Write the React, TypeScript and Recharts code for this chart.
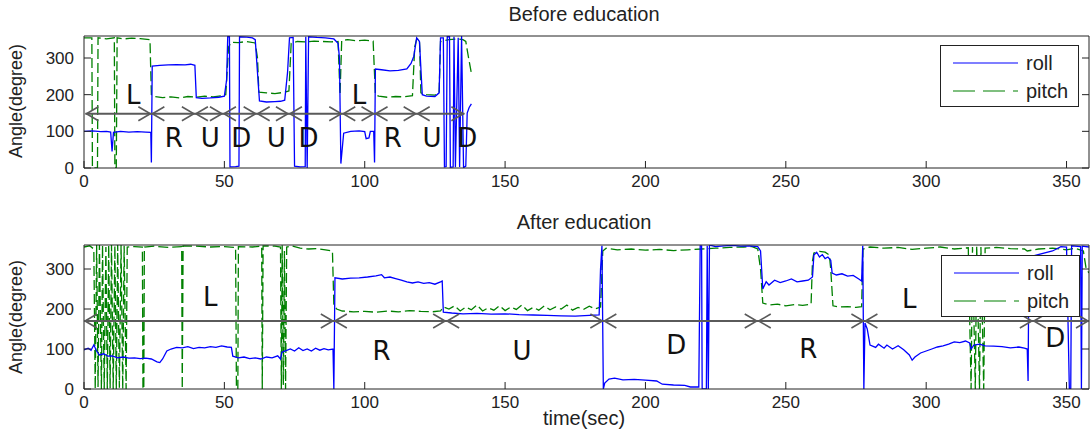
/* ── Angle traces before / after education — roll & pitch ─────────── */

import { LineChart, Line, XAxis, YAxis, ReferenceLine, ReferenceDot } from 'recharts';

const X_TICKS = [0, 50, 100, 150, 200, 250, 300, 350];
const Y_TICKS = [0, 100, 200, 300];
const X_MAX = 358;
const Y_MAX = 360;

const ROLL_COLOR = '#0000ff';
const PITCH_COLOR = '#008000';
const AXIS_COLOR = '#222';
const ARROW_COLOR = '#5a5a5a';

/* before education: [time, angle] */
const BEFORE_ROLL: [number, number][] = [
  [0, 100], [3, 101], [6, 99], [8, 100], [9.5, 98], [10, 45], [10.5, 97], [13, 100], [16, 98], [19, 99],
  [22, 98], [23.8, 97], [24, 15], [24.3, 278], [27, 280], [30, 281], [33, 282], [36, 281], [38, 283],
  [39.5, 280], [40, 192], [42, 190], [45, 191], [48, 193], [50, 196], [50.8, 240], [51.2, 358], [51.8, 358],
  [52, 3], [54, 4], [55.2, 5], [55.4, 358], [58, 357], [60, 355], [61, 350], [61.8, 260], [62.5, 183],
  [65, 180], [68, 181], [70, 182], [71.5, 185], [72.5, 260], [73.2, 355], [74.5, 356], [75, 5], [77, 3],
  [78.8, 4], [79, 358], [79.5, 0], [80, 358], [83, 356], [86, 355], [89, 352], [90.5, 340], [91, 300],
  [91.5, 12], [92.5, 95], [95, 100], [98, 101], [100, 99], [100.5, 80], [101.5, 82], [102, 100], [103.2, 100],
  [103.5, 15], [103.8, 270], [106, 268], [109, 265], [112, 266], [115, 270], [116.5, 285], [117.5, 305],
  [118.5, 355], [119.5, 345], [120.5, 200], [122, 196], [125, 195], [126.5, 205], [127, 355], [128, 355],
  [128.4, 3], [129, 4], [129.4, 358], [130.2, 358], [130.5, 2], [131.5, 3], [131.8, 358], [132.3, 2],
  [133.3, 355], [133.8, 3], [134.5, 360], [135.2, 1], [136, 5], [136.5, 150], [137.2, 165], [138, 175],
];

const BEFORE_PITCH: [number, number][] = [
  [0, 355], [2.8, 355], [3, 0], [4.8, 0], [5, 355], [8, 352], [10.8, 355], [11, 0], [11.5, 0], [11.8, 355],
  [14, 352], [17, 354], [20, 353], [23.5, 350], [24, 200], [25, 195], [28, 192], [31, 194], [34, 191],
  [37, 195], [40, 193], [43, 196], [46, 194], [49, 197], [50.5, 200], [51.5, 330], [52.5, 343], [55, 342],
  [58, 345], [61, 341], [61.8, 300], [62.3, 207], [65, 205], [68, 203], [71, 206], [73, 210], [73.8, 340],
  [76, 345], [79, 344], [82, 346], [85, 345], [88, 344], [90.5, 345], [91.2, 200], [91.8, 348], [94, 350],
  [97, 347], [100, 349], [103, 346], [103.8, 200], [105, 196], [108, 193], [111, 195], [114, 194],
  [117, 197], [117.8, 330], [118.5, 352], [119.5, 350], [120, 205], [122, 200], [125, 199], [126.5, 205],
  [127, 345], [130, 350], [133, 352], [135, 350], [136, 345], [137, 300], [138, 258],
];

/* after education: [time, angle] */
const AFTER_ROLL: [number, number][] = [
  [0, 98], [1.5, 102], [2.5, 97], [3.5, 110], [4.5, 95], [5.5, 85], [7, 88], [8.5, 82], [10, 83], [12, 78],
  [14, 80], [16, 77], [18, 78], [20, 76], [22, 77], [24, 75], [26, 68], [27, 66], [28, 75], [29.5, 95],
  [31, 100], [33, 104], [35, 103], [37, 106], [39, 101], [41, 104], [43, 103], [45, 106], [47, 104],
  [49, 108], [51, 105], [52.5, 104], [53, 82], [55, 78], [57, 80], [59, 76], [61, 78], [63, 75], [65, 80],
  [67, 78], [69, 83], [70, 75], [70.5, 92], [72, 96], [73.5, 100], [75, 95], [76.5, 103], [78, 96],
  [79.5, 100], [81, 95], [82.5, 102], [84, 97], [85.5, 101], [87, 98], [88.7, 100], [89, 0], [89.4, 278],
  [92, 275], [95, 277], [98, 278], [101, 280], [104, 283], [106, 286], [107, 278], [109, 280], [111, 276],
  [113, 272], [115, 268], [117, 265], [119, 268], [121, 264], [123, 266], [125, 262], [127, 268],
  [127.6, 270], [128, 192], [131, 190], [135, 188], [140, 189], [145, 187], [150, 188], [155, 186],
  [160, 185], [165, 184], [170, 183], [175, 182], [180, 184], [183.5, 185], [184, 300], [184.5, 358],
  [185, 0], [185.5, 15], [187, 25], [189, 27], [192, 23], [196, 24], [200, 22], [204, 20], [206, 12],
  [210, 10], [214, 9], [216, 5], [219, 5], [219.5, 358], [220, 358], [220.2, 0], [221.7, 0], [222, 358],
  [222.4, 0], [222.8, 360], [225, 356], [228, 358], [231, 359], [234, 357], [237, 358], [240, 356],
  [241, 345], [241.8, 250], [243, 268], [244, 260], [246, 272], [248, 266], [250, 270], [252, 275],
  [254, 268], [256, 270], [258, 272], [259.5, 280], [260, 335], [261, 342], [262, 330], [263, 336],
  [264, 326], [265, 330], [266, 322], [266.5, 290], [268, 285], [270, 288], [272, 282], [274, 284],
  [276, 275], [277, 270], [277.4, 358], [277.8, 0], [278.2, 165], [279, 150], [280, 110], [282, 104],
  [283, 112], [285, 102], [286, 110], [288, 100], [290, 108], [292, 98], [294, 85], [295, 72], [296, 80],
  [298, 90], [300, 95], [302, 100], [304, 105], [306, 108], [308, 112], [310, 118], [312, 116],
  [314, 120], [315.5, 115], [316, 100], [317, 110], [319, 112], [321, 108], [324, 107], [327, 106],
  [330, 103], [333, 105], [335, 102], [336, 100], [336.3, 20], [336.6, 330], [345, 345], [348, 356],
  [350, 355], [351, 0], [351.5, 0], [351.8, 358], [355, 356], [355.3, 0], [355.6, 357], [358, 355],
];

const AFTER_PITCH: [number, number][] = [
  [0, 355], [2, 358], [3.5, 350], [4, 0], [4.5, 360], [5, 5], [5.5, 360], [6.2, 0], [6.6, 360], [7.2, 0],
  [7.8, 355], [8.3, 0], [8.8, 360], [9.3, 2], [9.8, 360], [10.4, 0], [11, 358], [11.5, 0], [12, 360],
  [12.6, 3], [13.2, 360], [13.8, 0], [14.3, 358], [15, 0], [15.4, 355], [18, 356], [20.8, 355], [21, 0],
  [21.3, 0], [21.5, 355], [25, 357], [30, 354], [34.8, 356], [35, 0], [35.3, 358], [40, 357], [45, 355],
  [50, 356], [54, 354], [54.3, 0], [54.8, 0], [55, 356], [60, 355], [63.3, 357], [63.5, 0], [63.8, 358],
  [68, 357], [70, 355], [70.3, 0], [70.6, 360], [71, 10], [71.4, 345], [71.8, 0], [72.2, 355], [74, 358],
  [77, 352], [80, 350], [83, 351], [86, 348], [88.5, 345], [89, 210], [90, 200], [92, 195], [96, 193],
  [100, 194], [104, 192], [108, 195], [112, 193], [116, 196], [120, 194], [124, 193], [127, 195],
  [128, 205], [130, 200], [132, 208], [134, 195], [136, 205], [138, 198], [140, 210], [142, 195],
  [144, 203], [146, 197], [148, 208], [150, 196], [152, 205], [154, 199], [156, 210], [158, 196],
  [160, 204], [162, 197], [164, 208], [166, 198], [168, 205], [170, 200], [172, 210], [174, 197],
  [176, 204], [178, 199], [180, 207], [182, 200], [184, 205], [184.8, 345], [186, 352], [190, 348],
  [195, 350], [200, 347], [205, 349], [210, 346], [215, 348], [220, 350], [225, 352], [230, 354],
  [235, 355], [238, 356], [240, 350], [241, 300], [241.8, 215], [244, 210], [247, 212], [250, 208],
  [253, 211], [256, 209], [259, 212], [259.5, 320], [260, 340], [262, 344], [264, 342], [265.5, 335],
  [266, 300], [266.8, 208], [269, 205], [272, 206], [275, 204], [277, 206], [277.5, 350], [280, 355],
  [285, 352], [290, 354], [295, 349], [300, 352], [305, 355], [310, 350], [315, 353], [316, 0],
  [316.5, 355], [317.5, 0], [318, 358], [319, 0], [319.5, 355], [320.5, 0], [321, 352], [325, 354],
  [330, 351], [335, 350], [336, 345], [340, 350], [345, 352], [350, 348], [353, 352], [356, 345],
  [357, 300], [358, 290],
];

/* segment boundaries of the motion annotation arrows */
const BEFORE_MARKS = [0.5, 24, 39.5, 49.5, 61.5, 73, 92, 103.5, 118.5, 135.5];
const AFTER_MARKS = [0, 89, 129, 185, 240, 278, 338, 358];
const BEFORE_ARROW_Y = 148;
const AFTER_ARROW_Y = 170;

/* motion letters: [time, angle, letter] */
const BEFORE_LETTERS: [number, number, string][] = [
  [17.5, 200, 'L'], [32, 82, 'R'], [45, 82, 'U'], [56, 82, 'D'], [68.5, 82, 'U'], [80, 82, 'D'],
  [98, 200, 'L'], [110, 82, 'R'], [124, 82, 'U'], [136.5, 82, 'D'],
];
const AFTER_LETTERS: [number, number, string][] = [
  [45, 230, 'L'], [106, 97, 'R'], [156, 97, 'U'], [211, 110, 'D'], [258, 102, 'R'], [294, 225, 'L'],
  [346, 128, 'D'],
];

const toPts = (arr: [number, number][]) => arr.map(([t, v]) => ({ t, v }));

/* inward MATLAB-style ticks */
const BottomTick = ({ x, y, payload }: any) => (
  <g>
    <line x1={x} x2={x} y1={y - 6} y2={y - 13} stroke={AXIS_COLOR} />
    <text x={x} y={y} dy="0.75em" textAnchor="middle" fill="#222" fontSize={17}>{payload.value}</text>
  </g>
);
const TopTick = ({ x, y }: any) => <line x1={x} x2={x} y1={y} y2={y + 7} stroke={AXIS_COLOR} />;
const LeftTick = ({ x, y, payload }: any) => (
  <g>
    <line x1={x + 10} x2={x + 17} y1={y} y2={y} stroke={AXIS_COLOR} />
    <text x={x} y={y} dy="0.36em" textAnchor="end" fill="#222" fontSize={17}>{payload.value}</text>
  </g>
);
const RightTick = ({ x, y }: any) => <line x1={x} x2={x - 7} y1={y} y2={y} stroke={AXIS_COLOR} />;

function ArrowHeads(marks: number[], yv: number) {
  return marks.map((m, i) => (
    <ReferenceDot
      key={'ah' + i}
      x={m}
      y={yv}
      r={0}
      ifOverflow="visible"
      shape={(p: any) => (
        <g stroke={ARROW_COLOR} strokeWidth={1.6} fill="none">
          {i > 0 && <polyline points={`${p.cx - 13},${p.cy - 7} ${p.cx - 1},${p.cy} ${p.cx - 13},${p.cy + 7}`} />}
          {i < marks.length - 1 && <polyline points={`${p.cx + 13},${p.cy - 7} ${p.cx + 1},${p.cy} ${p.cx + 13},${p.cy + 7}`} />}
        </g>
      )}
    />
  ));
}

function Letters(items: [number, number, string][]) {
  return items.map(([t, v, s], i) => (
    <ReferenceDot
      key={'lt' + i}
      x={t}
      y={v}
      r={0}
      ifOverflow="visible"
      shape={(p: any) => (
        <text x={p.cx} y={p.cy} dy="0.36em" textAnchor="middle" fontSize={26} fill="#111"
          fontFamily="'DejaVu Sans', sans-serif">{s}</text>
      )}
    />
  ));
}

function LegendBox({ left, top }: { left: number; top: number }) {
  return (
    <div style={{
      position: 'absolute', left, top, width: 137, height: 60, background: '#fff',
      border: '1px solid #222',
    }}>
      <svg width={137} height={60} style={{ position: 'absolute', left: 0, top: 0 }}>
        <line x1={12} x2={77} y1={17} y2={17} stroke={ROLL_COLOR} strokeWidth={1.2} />
        <line x1={12} x2={77} y1={45} y2={45} stroke={PITCH_COLOR} strokeWidth={1.2} strokeDasharray="22 8" />
        <text x={85} y={17} dy="0.36em" fill="#222" fontSize={20}>roll</text>
        <text x={85} y={45} dy="0.36em" fill="#222" fontSize={20}>pitch</text>
      </svg>
    </div>
  );
}

function Panel(props: {
  roll: [number, number][]; pitch: [number, number][]; marks: number[]; arrowY: number;
  letters: [number, number, string][]; height: number; margin: any;
}) {
  const { roll, pitch, marks, arrowY, letters, height, margin } = props;
  return (
    <LineChart width={1092} height={height} margin={margin}>
      <XAxis dataKey="t" type="number" domain={[0, X_MAX]} ticks={X_TICKS} allowDataOverflow
        height={30} tickSize={0} tickMargin={6} tickLine={false} stroke={AXIS_COLOR} tick={<BottomTick />} />
      <XAxis xAxisId="top" orientation="top" type="number" domain={[0, X_MAX]} ticks={X_TICKS} allowDataOverflow
        height={1} tickSize={0} tickMargin={0} tickLine={false} stroke={AXIS_COLOR} tick={<TopTick />} />
      <YAxis type="number" domain={[0, Y_MAX]} ticks={Y_TICKS} allowDataOverflow
        width={60} tickSize={0} tickMargin={10} tickLine={false} stroke={AXIS_COLOR} tick={<LeftTick />} />
      <YAxis yAxisId="right" orientation="right" type="number" domain={[0, Y_MAX]} ticks={Y_TICKS} allowDataOverflow
        width={1} tickSize={0} tickMargin={0} tickLine={false} stroke={AXIS_COLOR} tick={<RightTick />} />
      <Line data={toPts(pitch)} dataKey="v" stroke={PITCH_COLOR} strokeWidth={1.3} strokeDasharray="10 4"
        dot={false} isAnimationActive={false} />
      <Line data={toPts(roll)} dataKey="v" stroke={ROLL_COLOR} strokeWidth={1.3}
        dot={false} isAnimationActive={false} />
      <ReferenceLine segment={[{ x: marks[0], y: arrowY }, { x: marks[marks.length - 1], y: arrowY }]}
        stroke={ARROW_COLOR} strokeWidth={2} ifOverflow="visible" />
      {ArrowHeads(marks, arrowY)}
      {Letters(letters)}
    </LineChart>
  );
}

export default function App() {
  const textStyle: any = { position: 'absolute', fontSize: 20, color: '#222', whiteSpace: 'nowrap' };
  return (
    <div style={{
      position: 'absolute', left: 0, top: 0, width: 1092, height: 432, background: '#fff',
      fontFamily: "'Liberation Sans', Arial, sans-serif",
    }}>
      <div style={{ position: 'absolute', left: 0, top: 0 }}>
        <Panel roll={BEFORE_ROLL} pitch={BEFORE_PITCH} marks={BEFORE_MARKS} arrowY={BEFORE_ARROW_Y}
          letters={BEFORE_LETTERS} height={200} margin={{ top: 35, right: 2, bottom: 2, left: 24 }} />
      </div>
      <div style={{ position: 'absolute', left: 0, top: 210 }}>
        <Panel roll={AFTER_ROLL} pitch={AFTER_PITCH} marks={AFTER_MARKS} arrowY={AFTER_ARROW_Y}
          letters={AFTER_LETTERS} height={222} margin={{ top: 34, right: 2, bottom: 13, left: 24 }} />
      </div>
      <LegendBox left={940} top={45} />
      <LegendBox left={941} top={255} />
      <div style={{ ...textStyle, left: 484, width: 200, textAlign: 'center', top: 3, lineHeight: '22px' }}>Before education</div>
      <div style={{ ...textStyle, left: 484, width: 200, textAlign: 'center', top: 211, lineHeight: '22px' }}>After education</div>
      <div style={{ ...textStyle, left: 484, width: 200, textAlign: 'center', top: 407, lineHeight: '22px' }}>time(sec)</div>
      {[101, 317].map((cy) => (
        <div key={cy} style={{
          ...textStyle, fontSize: 18, left: 16 - 100, top: cy - 11, width: 200, textAlign: 'center', lineHeight: '22px',
          transform: 'rotate(-90deg)',
        }}>Angle(degree)</div>
      ))}
    </div>
  );
}
